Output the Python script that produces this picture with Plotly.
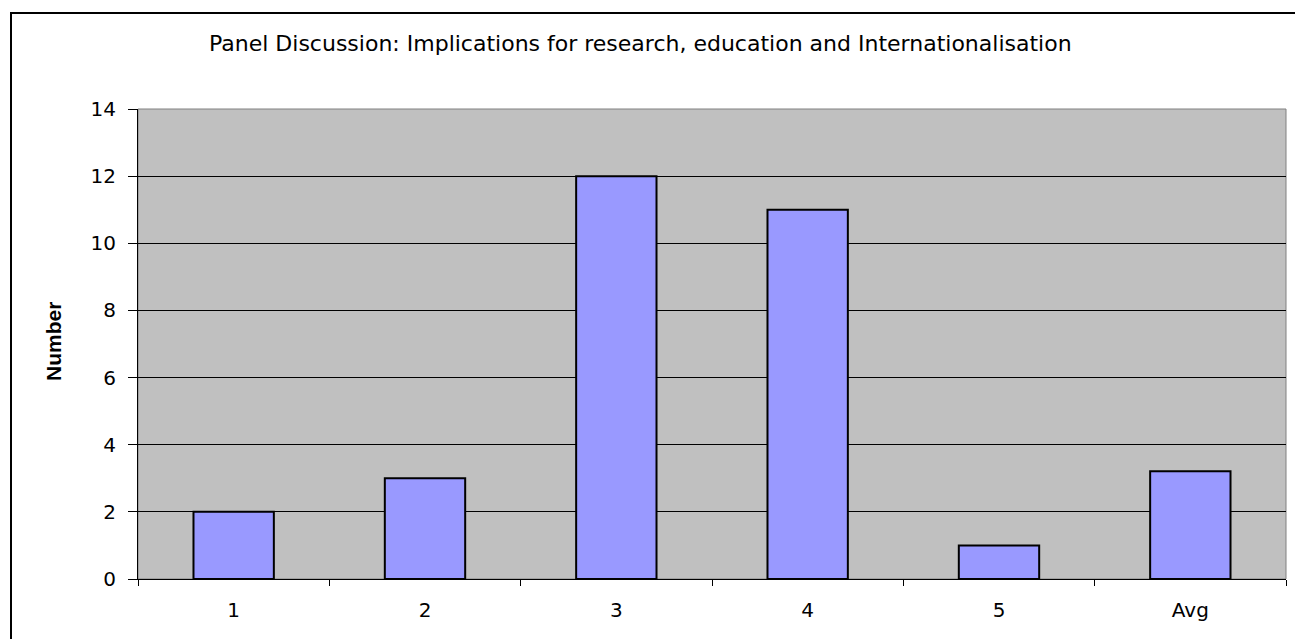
import plotly.graph_objects as go

categories = ["1", "2", "3", "4", "5", "Avg"]
values = [2, 3, 12, 11, 1, 3.21]
y_ticks = [0, 2, 4, 6, 8, 10, 12, 14]
title_text = "Panel Discussion: Implications for research, education and Internationalisation"
y_title = "Number"

W, H = 1295, 639
L, R, T, B = 138, 9, 109, 60
pw, ph = W - L - R, H - T - B

fig = go.Figure()
fig.add_trace(go.Bar(
    x=categories, y=values,
    marker=dict(color="#9999FF", line=dict(color="black", width=2)),
))

def px_to_paper_x(px):
    return (px - L) / pw

def px_to_paper_y(py):
    return (H - B - py) / ph

FONT = "DejaVu Sans, Liberation Sans, Arial, sans-serif"

fig.update_layout(
    width=W, height=H,
    margin=dict(l=L, r=R, t=T, b=B),
    paper_bgcolor="white",
    plot_bgcolor="#C0C0C0",
    bargap=0.58,
    showlegend=False,
    font=dict(family=FONT, color="black", size=20),
    xaxis=dict(
        type="category", tickson="boundaries", ticks="outside", ticklen=6,
        tickcolor="black", showline=True, linecolor="black", linewidth=1,
        showgrid=False, tickfont=dict(size=20), ticklabelstandoff=13,
    ),
    yaxis=dict(
        range=[0, 14], tickvals=y_ticks, ticks="outside", ticklen=9,
        tickcolor="black", showline=True, linecolor="black", linewidth=1,
        showgrid=True, gridcolor="black", gridwidth=1, tickfont=dict(size=20),
        ticklabelstandoff=8, zeroline=False,
    ),
    shapes=[
        dict(type="rect", xref="paper", yref="paper", x0=0, x1=1, y0=0, y1=1,
             line=dict(color="#808080", width=1), layer="below"),
        dict(type="rect", xref="paper", yref="paper",
             x0=px_to_paper_x(11), x1=px_to_paper_x(1320),
             y0=px_to_paper_y(660), y1=px_to_paper_y(13),
             line=dict(color="black", width=2)),
    ],
    annotations=[
        dict(text=title_text, xref="paper", yref="paper",
             x=px_to_paper_x(640), y=px_to_paper_y(44), showarrow=False,
             font=dict(size=22, family=FONT), xanchor="center", yanchor="middle"),
        dict(text="<b>" + y_title + "</b>", xref="paper", yref="paper",
             x=px_to_paper_x(53), y=px_to_paper_y(342), showarrow=False,
             textangle=-90, font=dict(size=21, family="Liberation Sans Narrow, Liberation Sans, Arial, sans-serif"),
             xanchor="center", yanchor="middle"),
    ],
)

fig.write_html("out.html")
